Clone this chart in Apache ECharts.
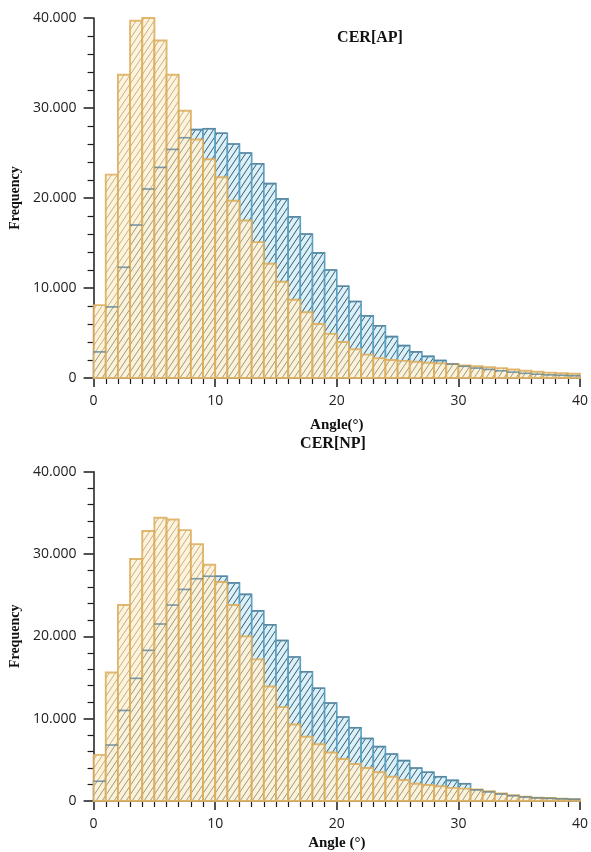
<!DOCTYPE html>
<html>
<head>
<meta charset="utf-8">
<script src="https://cdn.jsdelivr.net/npm/echarts@6/dist/echarts.min.js"></script>
<style>
  html, body { margin: 0; padding: 0; background: #fff; }
  #chart { width: 591px; height: 852px; }
</style>
</head>
<body>
<div id="chart"></div>
<script>
// Lower edges of the one-degree angle bins (0° .. 39°)
const binLow = [0, 1, 2, 3, 4, 5, 6, 7, 8, 9, 10, 11, 12, 13, 14, 15, 16, 17, 18, 19,
                20, 21, 22, 23, 24, 25, 26, 27, 28, 29, 30, 31, 32, 33, 34, 35, 36, 37, 38, 39];
const binWidth = 1;

// CER[AP] frequencies
const apBlue = [2900, 7900, 12300, 17000, 21000, 23400, 25400, 26700, 27600, 27700,
                27200, 26000, 25000, 23800, 21600, 19900, 17900, 16000, 13900, 12000,
                10200, 8500, 6900, 5800, 4600, 3600, 2900, 2400, 1950, 1550,
                1300, 1100, 950, 800, 650, 520, 420, 350, 300, 250];
const apOrange = [8100, 22600, 33700, 39700, 40000, 37500, 33700, 29700, 26500, 24300,
                  22300, 19700, 17500, 15100, 12700, 10700, 8700, 7300, 6000, 4900,
                  4000, 3200, 2600, 2200, 2000, 1900, 1800, 1700, 1630, 1560,
                  1400, 1300, 1200, 1100, 950, 800, 700, 600, 520, 480];

// CER[NP] frequencies
const npBlue = [2400, 6800, 11000, 14900, 18300, 21500, 23800, 25700, 27000, 27300,
                27300, 26500, 25100, 23100, 21400, 19500, 17500, 15700, 13700, 11900,
                10200, 8900, 7600, 6600, 5700, 4900, 4000, 3500, 2950, 2500,
                2100, 1350, 1100, 850, 640, 480, 370, 320, 260, 200];
const npOrange = [5600, 15600, 23800, 29400, 32800, 34400, 34200, 32900, 31200, 28700,
                  26600, 23800, 20000, 17200, 13900, 11400, 9300, 7800, 6900, 5900,
                  5100, 4500, 4000, 3500, 2950, 2550, 2100, 1950, 1800, 1600,
                  1500, 1400, 1200, 930, 700, 530, 400, 360, 290, 200];

// Axis ticks
const xTicks = { min: 0, max: 40, step: 10 };
const yTicks = { min: 0, max: 40000, step: 10000 };

// Diagonal hatch tile used as the bar fill
function hatch(bg, line) {
  const W = 6, H = 9;
  const c = document.createElement('canvas');
  c.width = W; c.height = H;
  const g = c.getContext('2d');
  g.fillStyle = bg;
  g.fillRect(0, 0, W, H);
  g.strokeStyle = line;
  g.lineWidth = 0.9;
  g.beginPath();
  for (const dx of [-W, 0, W]) { g.moveTo(dx, H); g.lineTo(dx + W, 0); }
  g.stroke();
  return { image: c, repeat: 'repeat' };
}

const blueLook = { fill: hatch('#d9f1fa', '#2f4653'), stroke: '#5aa0c2', width: 1.6, opacity: 1 };
const orangeLook = { fill: hatch('#fff3d4', '#a99a7c'), stroke: '#dcac58', width: 1.9, opacity: 0.85 };

function binRect(api) {
  const p0 = api.coord([api.value(0), 0]);
  const p1 = api.coord([api.value(1), api.value(2)]);
  return { x: p0[0], y: p1[1], width: p1[0] - p0[0], height: p0[1] - p1[1] };
}

function histSeries(name, values, idx, look) {
  return {
    type: 'custom', name: name, xAxisIndex: idx, yAxisIndex: idx, silent: true,
    data: binLow.map((b, i) => [b, b + binWidth, values[i]]),
    encode: { x: [0, 1], y: 2 },
    renderItem: function (params, api) {
      return {
        type: 'rect', shape: binRect(api),
        style: { fill: look.fill, stroke: look.stroke, lineWidth: look.width, opacity: look.opacity }
      };
    }
  };
}

// Top edge of each blue bin, kept visible through the overlapping bars
function edgeSeries(name, values, idx) {
  return {
    type: 'custom', name: name, xAxisIndex: idx, yAxisIndex: idx, silent: true,
    data: binLow.map((b, i) => [b, b + binWidth, values[i]]),
    encode: { x: [0, 1], y: 2 },
    renderItem: function (params, api) {
      const r = binRect(api);
      return {
        type: 'line',
        shape: { x1: r.x, y1: r.y, x2: r.x + r.width, y2: r.y },
        style: { stroke: 'rgba(92,128,150,0.75)', lineWidth: 1.6 }
      };
    }
  };
}

const tickFont = { fontFamily: '"Open Sans", sans-serif', fontSize: 14, color: '#222' };
const nameFontX = { fontFamily: '"Liberation Serif", serif', fontSize: 15, fontWeight: 'bold', color: '#111' };
const nameFontY = { fontFamily: '"Liberation Serif", serif', fontSize: 14, fontWeight: 'bold', color: '#111' };
const lineStyle = { color: '#1a1a1a', width: 1.5 };

function dotThousands(v) {
  return String(v).replace(/\B(?=(\d{3})+(?!\d))/g, '.');
}

function xAxis(idx, name, gap) {
  return {
    gridIndex: idx, type: 'value',
    min: xTicks.min, max: xTicks.max, interval: xTicks.step,
    name: name, nameLocation: 'middle', nameGap: gap, nameTextStyle: nameFontX,
    axisLine: { lineStyle: lineStyle },
    axisTick: { length: 9, lineStyle: lineStyle },
    minorTick: { show: true, splitNumber: 10, length: 6, lineStyle: { color: '#1a1a1a', width: 1.2 } },
    splitLine: { show: false },
    axisLabel: Object.assign({ margin: 16 }, tickFont)
  };
}

function yAxis(idx, gap) {
  return {
    gridIndex: idx, type: 'value',
    min: yTicks.min, max: yTicks.max, interval: yTicks.step,
    name: 'Frequency', nameLocation: 'middle', nameRotate: 90, nameGap: gap, nameTextStyle: nameFontY,
    axisLine: { show: true, lineStyle: lineStyle },
    axisTick: { show: true, length: 10, lineStyle: lineStyle },
    minorTick: { show: true, splitNumber: 5, length: 6, lineStyle: { color: '#1a1a1a', width: 1.2 } },
    splitLine: { show: false },
    axisLabel: Object.assign({ margin: 17, formatter: dotThousands }, tickFont)
  };
}

const chart = echarts.init(document.getElementById('chart'), null, { renderer: 'canvas' });
chart.setOption({
  animation: false,
  backgroundColor: '#fff',
  grid: [
    { left: 88, right: 8, top: 18, height: 360 },
    { left: 91.5, right: 7, top: 471.7, height: 330 }
  ],
  xAxis: [xAxis(0, 'Angle(°)', 40), xAxis(1, 'Angle (°)', 35)],
  yAxis: [yAxis(0, 66), yAxis(1, 64)],
  graphic: [
    { type: 'text', x: 370, y: 38, style: { text: 'CER[AP]', textAlign: 'center', textVerticalAlign: 'middle', font: 'bold 16px "Liberation Serif", serif', fill: '#111' } },
    { type: 'text', x: 333, y: 444, style: { text: 'CER[NP]', textAlign: 'center', textVerticalAlign: 'middle', font: 'bold 16px "Liberation Serif", serif', fill: '#111' } }
  ],
  series: [
    histSeries('AP blue', apBlue, 0, blueLook),
    histSeries('AP orange', apOrange, 0, orangeLook),
    edgeSeries('AP blue edge', apBlue, 0),
    histSeries('NP blue', npBlue, 1, blueLook),
    histSeries('NP orange', npOrange, 1, orangeLook),
    edgeSeries('NP blue edge', npBlue, 1)
  ]
});
</script>
</body>
</html>
